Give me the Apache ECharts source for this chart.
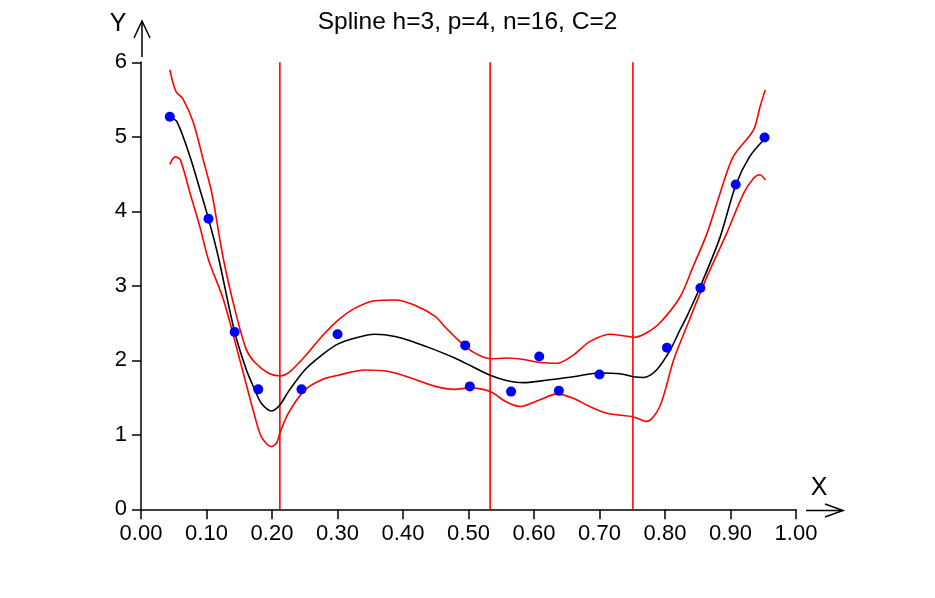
<!DOCTYPE html>
<html>
<head>
<meta charset="utf-8">
<script src="https://cdn.jsdelivr.net/npm/echarts@6/dist/echarts.min.js"></script>
<style>
html,body{margin:0;padding:0;background:#fff;}
#c{width:935px;height:598px;}
</style>
</head>
<body>
<div id="c"></div>
<script>
// Chart title and axis names
var titleText = 'Spline h=3, p=4, n=16, C=2';
var xName = 'X';
var yName = 'Y';

// Observed data points
var pointsX = [0.044, 0.103, 0.143, 0.179, 0.245, 0.300, 0.495, 0.502, 0.565, 0.608, 0.638, 0.700, 0.803, 0.854, 0.908, 0.952];
var pointsY = [5.27, 3.90, 2.38, 1.61, 1.61, 2.35, 2.20, 1.65, 1.58, 2.05, 1.59, 1.81, 2.17, 2.97, 4.36, 4.99];

// Fitted spline (black)
var fitX = [0.044, 0.055, 0.075, 0.090, 0.103, 0.118, 0.143, 0.161, 0.174, 0.184, 0.1995, 0.212, 0.225, 0.250, 0.276, 0.301, 0.327, 0.357, 0.388, 0.418, 0.449, 0.479, 0.507, 0.533, 0.558, 0.584, 0.609, 0.660, 0.701, 0.731, 0.752, 0.767, 0.787, 0.808, 0.823, 0.834, 0.853, 0.884, 0.908, 0.929, 0.953];
var fitY = [5.27, 5.20, 4.73, 4.29, 3.90, 3.39, 2.38, 1.87, 1.60, 1.42, 1.32, 1.40, 1.58, 1.87, 2.07, 2.22, 2.30, 2.35, 2.32, 2.24, 2.14, 2.03, 1.91, 1.80, 1.73, 1.70, 1.72, 1.78, 1.83, 1.82, 1.78, 1.77, 1.87, 2.14, 2.41, 2.60, 2.97, 3.65, 4.35, 4.73, 4.98];

// Upper confidence band (red)
var upperX = [0.044, 0.049, 0.054, 0.064, 0.080, 0.095, 0.108, 0.126, 0.146, 0.161, 0.174, 0.194, 0.212, 0.225, 0.250, 0.276, 0.301, 0.327, 0.357, 0.388, 0.418, 0.449, 0.465, 0.487, 0.507, 0.533, 0.558, 0.584, 0.609, 0.635, 0.660, 0.685, 0.716, 0.736, 0.754, 0.772, 0.792, 0.823, 0.843, 0.864, 0.884, 0.904, 0.935, 0.945, 0.953];
var upperY = [5.90, 5.72, 5.60, 5.51, 5.19, 4.69, 4.25, 3.35, 2.59, 2.14, 1.97, 1.83, 1.79, 1.83, 2.05, 2.32, 2.54, 2.70, 2.80, 2.81, 2.74, 2.59, 2.44, 2.25, 2.11, 2.02, 2.03, 2.01, 1.97, 1.96, 2.07, 2.25, 2.35, 2.33, 2.31, 2.37, 2.50, 2.85, 3.26, 3.70, 4.24, 4.73, 5.09, 5.40, 5.63];

// Lower confidence band (red)
var lowerX = [0.044, 0.052, 0.060, 0.075, 0.090, 0.103, 0.126, 0.151, 0.174, 0.184, 0.1995, 0.207, 0.212, 0.225, 0.250, 0.276, 0.301, 0.342, 0.378, 0.413, 0.449, 0.479, 0.502, 0.533, 0.558, 0.579, 0.609, 0.635, 0.660, 0.685, 0.711, 0.752, 0.772, 0.792, 0.813, 0.833, 0.864, 0.894, 0.920, 0.935, 0.945, 0.953];
var lowerY = [4.63, 4.73, 4.69, 4.24, 3.79, 3.35, 2.81, 2.00, 1.24, 0.97, 0.84, 0.89, 1.02, 1.29, 1.60, 1.74, 1.80, 1.87, 1.85, 1.76, 1.65, 1.61, 1.63, 1.58, 1.44, 1.38, 1.47, 1.55, 1.49, 1.38, 1.29, 1.24, 1.18, 1.38, 2.00, 2.45, 3.12, 3.70, 4.24, 4.44, 4.49, 4.42];

// Knot positions (vertical red lines)
var knots = [0.212, 0.533, 0.751];

// Axis ranges / ticks
var xMin = 0, xMax = 1, xStep = 0.1;
var yMin = 0, yMax = 6, yStep = 1;

function zip(a, b) { return a.map(function (v, i) { return [v, b[i]]; }); }

var FONT = '"Liberation Sans", Arial, sans-serif';
var series = [];
knots.forEach(function (k) {
  series.push({
    type: 'line', data: [[k, yMin], [k, yMax]], symbol: 'none',
    lineStyle: { color: '#ff0000', width: 1.6 }, silent: true, z: 1
  });
});
series.push({
  type: 'line', data: zip(upperX, upperY), smooth: 0.3, symbol: 'none',
  lineStyle: { color: '#ff0000', width: 1.6 }, z: 2
});
series.push({
  type: 'line', data: zip(lowerX, lowerY), smooth: 0.3, symbol: 'none',
  lineStyle: { color: '#ff0000', width: 1.6 }, z: 2
});
series.push({
  type: 'line', data: zip(fitX, fitY), smooth: 0.3, symbol: 'none',
  lineStyle: { color: '#000000', width: 1.6 }, z: 3
});
series.push({
  type: 'scatter', data: zip(pointsX, pointsY), symbol: 'circle', symbolSize: 10,
  itemStyle: { color: '#0000ff', opacity: 1 }, z: 4
});

var chart = echarts.init(document.getElementById('c'), null, { renderer: 'canvas' });
chart.setOption({
  animation: false,
  backgroundColor: '#ffffff',
  title: {
    text: titleText, left: 'center', top: 5,
    textStyle: { fontFamily: FONT, fontSize: 24.5, fontWeight: 'normal', color: '#000' }
  },
  grid: { left: 141, right: 139, top: 62.3, bottom: 88.7, containLabel: false },
  xAxis: {
    type: 'value', min: xMin, max: xMax, interval: xStep,
    axisLine: { show: true, onZero: false, lineStyle: { color: '#000', width: 1.5 } },
    axisTick: { show: true, inside: false, length: 10, lineStyle: { color: '#000', width: 1.5 } },
    axisLabel: {
      margin: 14, fontFamily: FONT, fontSize: 22, color: '#000',
      formatter: function (v) { return v.toFixed(2); }
    },
    splitLine: { show: false }
  },
  yAxis: {
    type: 'value', min: yMin, max: yMax, interval: yStep,
    axisLine: { show: true, onZero: false, lineStyle: { color: '#000', width: 1.5 } },
    axisTick: { show: true, inside: false, length: 9, lineStyle: { color: '#000', width: 1.5 } },
    axisLabel: { margin: 14, fontFamily: FONT, fontSize: 22, color: '#000' },
    splitLine: { show: false }
  },
  graphic: [
    { type: 'line', shape: { x1: 142, y1: 57, x2: 142, y2: 21 }, style: { stroke: '#000', lineWidth: 1.5 } },
    { type: 'polyline', shape: { points: [[134, 38], [142, 21], [150, 38]] }, style: { stroke: '#000', lineWidth: 1.5, fill: null } },
    { type: 'line', shape: { x1: 806, y1: 510.5, x2: 843, y2: 510.5 }, style: { stroke: '#000', lineWidth: 1.5 } },
    { type: 'polyline', shape: { points: [[825, 504], [843, 510.5], [825, 517]] }, style: { stroke: '#000', lineWidth: 1.5, fill: null } },
    { type: 'text', x: 118, y: 24, style: { text: yName, font: '25px ' + FONT, fill: '#000', align: 'center', verticalAlign: 'middle' } },
    { type: 'text', x: 819, y: 488, style: { text: xName, font: '25px ' + FONT, fill: '#000', align: 'center', verticalAlign: 'middle' } }
  ],
  series: series
});
</script>
</body>
</html>
